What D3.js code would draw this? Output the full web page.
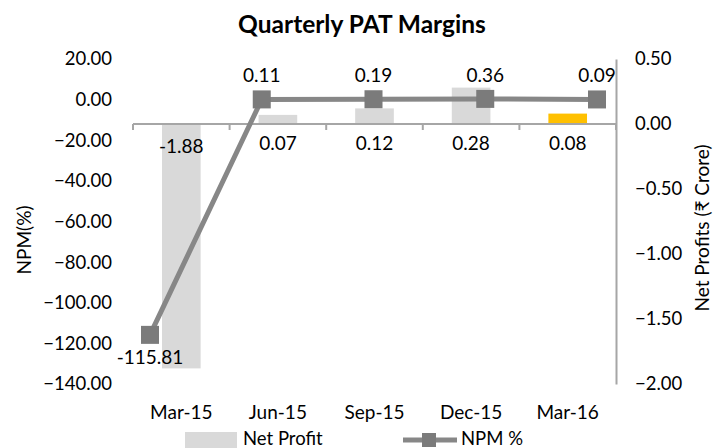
<!DOCTYPE html>
<html>
<head>
<meta charset="utf-8">
<script src="https://cdn.jsdelivr.net/npm/d3@7"></script>
<style>
  body { margin: 0; background: #fff; }
  text { font-family: Lato, "Open Sans", sans-serif; fill: #000; }
</style>
</head>
<body>
<div id="chart"></div>
<script>
// data
var quarters = ["Mar-15", "Jun-15", "Sep-15", "Dec-15", "Mar-16"];
var netProfit = [-1.88, 0.07, 0.12, 0.28, 0.08];
var npm = [-115.81, 0.11, 0.19, 0.36, 0.09];
var leftTicks = [20, 0, -20, -40, -60, -80, -100, -120, -140];
var rightTicks = [0.5, 0, -0.5, -1, -1.5, -2];

var w = 713, h = 448;
var plotTop = 59, plotBottom = 384;
var plotLeft = 133, plotRight = 616;
var fs = "19px";

var svg = d3.select("#chart").append("svg")
    .attr("width", w)
    .attr("height", h);

// scales
var xBand = d3.scaleBand().domain(quarters).range([plotLeft, plotRight]);
var xLine = d3.scalePoint().domain(quarters).range([150, 597]);
var yLeft = d3.scaleLinear().domain([-140, 20]).range([plotBottom, plotTop]);
var yRight = d3.scaleLinear().domain([-2, 0.5]).range([plotBottom, plotTop]);

// title
svg.append("text")
    .attr("x", 362).attr("y", 33)
    .attr("text-anchor", "middle")
    .style("font-size", "24.5px")
    .style("font-weight", "bold")
    .text("Quarterly PAT Margins");

// left axis (labels only)
var yAxisL = d3.axisLeft(yLeft).tickValues(leftTicks).tickSize(0).tickPadding(0)
    .tickFormat(d3.format(".2f"));
var gL = svg.append("g").attr("transform", "translate(112,0)").call(yAxisL);
gL.select(".domain").remove();
gL.selectAll("text").style("font-size", "18.5px").attr("font-family", null);

// right axis
var yAxisR = d3.axisRight(yRight).tickValues(rightTicks).tickSize(0).tickPadding(19)
    .tickFormat(d3.format(".2f"));
var gR = svg.append("g").attr("transform", "translate(" + plotRight + ",0)").call(yAxisR);
gR.select(".domain").attr("stroke", "#a6a6a6").attr("stroke-width", 2);
gR.selectAll("text").style("font-size", "18.5px").attr("font-family", null);

// bars
svg.selectAll("rect.bar")
    .data(netProfit)
    .enter()
    .append("rect")
    .attr("class", "bar")
    .attr("x", function(d, i) { return xBand(quarters[i]) + xBand.bandwidth() * 0.3; })
    .attr("width", xBand.bandwidth() * 0.4)
    .attr("y", function(d) { return Math.min(yRight(d), yRight(0)); })
    .attr("height", function(d) { return Math.abs(yRight(d) - yRight(0)); })
    .attr("fill", function(d, i) { return i == quarters.length - 1 ? "#ffc000" : "#d9d9d9"; });

// x axis at zero of right scale
var gX = svg.append("g").attr("transform", "translate(0," + yRight(0) + ")");
gX.append("line")
    .attr("x1", plotLeft).attr("x2", plotRight)
    .attr("stroke", "#a6a6a6").attr("stroke-width", 2);
// ticks at category boundaries
var bounds = quarters.map(function(q) { return xBand(q); }).concat([plotRight]);
gX.selectAll("line.bnd")
    .data(bounds)
    .enter()
    .append("line")
    .attr("class", "bnd")
    .attr("x1", function(d) { return d; })
    .attr("x2", function(d) { return d; })
    .attr("y1", 0).attr("y2", 6)
    .attr("stroke", "#a6a6a6").attr("stroke-width", 2);

// category labels
svg.selectAll("text.cat")
    .data(quarters)
    .enter()
    .append("text")
    .attr("class", "cat")
    .attr("x", function(d) { return xBand(d) + xBand.bandwidth() / 2; })
    .attr("y", 419)
    .attr("text-anchor", "middle")
    .style("font-size", fs)
    .text(function(d) { return d; });

// bar labels
svg.selectAll("text.barlbl")
    .data(netProfit)
    .enter()
    .append("text")
    .attr("class", "barlbl")
    .attr("x", function(d, i) { return xBand(quarters[i]) + xBand.bandwidth() / 2; })
    .attr("y", function(d) { return yRight(0) + (d < 0 ? 29 : 26); })
    .attr("text-anchor", "middle")
    .style("font-size", fs)
    .text(function(d) { return d.toFixed(2); });

// NPM line
var line = d3.line()
    .x(function(d, i) { return xLine(quarters[i]); })
    .y(function(d) { return yLeft(d); });
svg.append("path")
    .datum(npm)
    .attr("d", line)
    .attr("fill", "none")
    .attr("stroke", "#878787")
    .attr("stroke-width", 5);

svg.selectAll("rect.mk")
    .data(npm)
    .enter()
    .append("rect")
    .attr("class", "mk")
    .attr("x", function(d, i) { return xLine(quarters[i]) - 9; })
    .attr("y", function(d) { return yLeft(d) - 9; })
    .attr("width", 18).attr("height", 18)
    .attr("fill", "#7b7b7b");

svg.selectAll("text.npmlbl")
    .data(npm)
    .enter()
    .append("text")
    .attr("class", "npmlbl")
    .attr("x", function(d, i) { return xLine(quarters[i]); })
    .attr("y", function(d) { return d < 0 ? yLeft(d) + 29 : yLeft(d) - 17; })
    .attr("text-anchor", "middle")
    .style("font-size", fs)
    .text(function(d) { return d.toFixed(2); });

// axis titles
svg.append("text")
    .attr("transform", "translate(31,240) rotate(-90)")
    .attr("text-anchor", "middle")
    .style("font-size", fs)
    .text("NPM(%)");
svg.append("text")
    .attr("transform", "translate(709,228) rotate(-90)")
    .attr("text-anchor", "middle")
    .style("font-size", fs)
    .text("Net Profits (₹ Crore)");

// legend
var lg = svg.append("g");
lg.append("rect")
    .attr("x", 185).attr("y", 432).attr("width", 52).attr("height", 16)
    .attr("fill", "#d9d9d9");
lg.append("text")
    .attr("x", 243).attr("y", 445)
    .style("font-size", "18.5px")
    .text("Net Profit");
lg.append("line")
    .attr("x1", 403).attr("x2", 457).attr("y1", 440).attr("y2", 440)
    .attr("stroke", "#878787").attr("stroke-width", 5);
lg.append("rect")
    .attr("x", 422).attr("y", 433).attr("width", 14).attr("height", 14)
    .attr("fill", "#7b7b7b");
lg.append("text")
    .attr("x", 461).attr("y", 445)
    .style("font-size", "18.5px")
    .text("NPM %");
</script>
</body>
</html>
